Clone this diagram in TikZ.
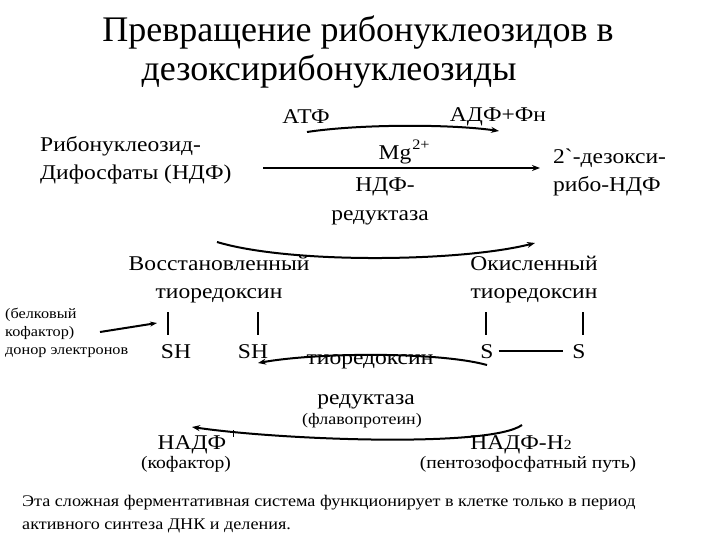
\documentclass[tikz,border=0pt]{standalone}
\usepackage{fontspec}
\setmainfont{Liberation Serif}[FakeStretch=1.12]
\newfontfamily\headfont{Liberation Serif}
\newfontfamily\rawfont{Liberation Serif}[FakeStretch=1.12, Ligatures=ResetAll]
\usetikzlibrary{arrows.meta, calc}

\tikzset{
  ttl/.style={font=\headfont\fontsize{36}{39}\selectfont, inner sep=0pt},
  txt/.style={font=\fontsize{21}{28}\selectfont, inner sep=0pt},
  sml/.style={font=\fontsize{14.5}{18}\selectfont, inner sep=0pt},
  mid/.style={font=\fontsize{17.5}{20}\selectfont, inner sep=0pt},
  bow/.style={line width=2pt, -{Stealth[length=8pt,width=6pt]}},
  bar/.style={line width=1.2pt}
}

\begin{document}
\begin{tikzpicture}[x=1pt,y=-1pt]
  \useasboundingbox (0,0) rectangle (720,540);
  % title
  \node[ttl] (t1) at (358,33) {Превращение рибонуклеозидов в};
  \node[ttl] (t2) at (329,72) {дезоксирибонуклеозиды};

  % first step
  \node[txt] (atf) at (306,117) {АТФ};
  \node[txt] (adf) at (498,117) {АДФ+Фн};
  \coordinate (atfb) at (307,132);
  \coordinate (adfb) at (499,131);
  \draw[bow] (atfb) .. controls (360,124) and (450,124) .. (adfb);
  \node[txt, anchor=west, align=left] (rib) at (40,160) {Рибонуклеозид-\\Дифосфаты (НДФ)};
  \node[txt, anchor=west, align=left] (dez) at (553,172) {2{\rawfont`}-дезокси-\\рибо-НДФ};
  \node[txt] (mg) at (395,155) {Mg};
  \node[sml] (mgc) at (421,145) {2+};
  \coordinate (ma) at (263,168);
  \coordinate (mb) at (540,168);
  \draw[line width=1.5pt, -{Stealth[length=8pt,width=6pt]}] (ma) -- (mb);
  \node[txt] (ndf) at (385,187) {НДФ-};
  \node[txt] (ndfr) at (380,218) {редуктаза};

  % thioredoxin
  \coordinate (ba) at (217,242);
  \coordinate (bb) at (535,243);
  \draw[bow] (ba) .. controls (290,264) and (460,262) .. (bb);
  \node[txt, align=center] (red) at (219,280) {Восстановленный\\тиоредоксин};
  \node[txt, align=center] (ox) at (534,280) {Окисленный\\тиоредоксин};
  \node[sml, anchor=west, align=left] (donor) at (5,333) {(белковый\\кофактор)\\донор электронов};
  \coordinate (da) at (100,332);
  \coordinate (db) at (157,323);
  \draw[line width=2pt, -{Stealth[length=7pt,width=5pt]}] (da) -- (db);
  \node[txt] (sh1) at (176,352) {SH};
  \node[txt] (sh2) at (253,352) {SH};
  \node[txt] (s1) at (487,352) {S};
  \node[txt] (s2) at (579,352) {S};
  \foreach \x/\s in {168/sh1, 258/sh2, 486/s1, 583/s2}
    \draw[bar] (\x,312) -- (\x,335);
  \draw[bar] ($(s1.east)+(5,-1)$) -- ($(s2.west)+(-9,-1)$);

  % reductase
  \node[txt] (trx) at (370,362) {тиоредоксин};
  \coordinate (la) at (487,365);
  \coordinate (lb) at (258,363);
  \draw[bow] (la) .. controls (440,352) and (320,352) .. (lb);
  \node[txt] (trr) at (366,402) {редуктаза};
  \node[sml, font=\fontsize{16}{18}\selectfont] (flav) at (362,421) {(флавопротеин)};
  \coordinate (na) at (522,425);
  \coordinate (nb) at (192,427);
  \draw[bow] (na) .. controls (490,448) and (280,440) .. (nb);
  \draw[line width=0.8pt] (233,430) -- (233,437);
  \node[txt] (nadf) at (192,445) {НАДФ};
  \node[txt] (nadfh) at (521,445) {НАДФ-Н{\fontsize{14}{14}\selectfont 2}};
  \node[mid] (cof) at (186,464) {(кофактор)};
  \node[mid] (pent) at (528,464) {(пентозофосфатный путь)};

  % note
  \node[anchor=north west, align=left, inner sep=0pt, font=\fontsize{16.2}{23}\selectfont] (note) at (22,495)
    {Эта сложная ферментативная система функционирует в клетке только в период\\активного синтеза ДНК и деления.};
\end{tikzpicture}
\end{document}
